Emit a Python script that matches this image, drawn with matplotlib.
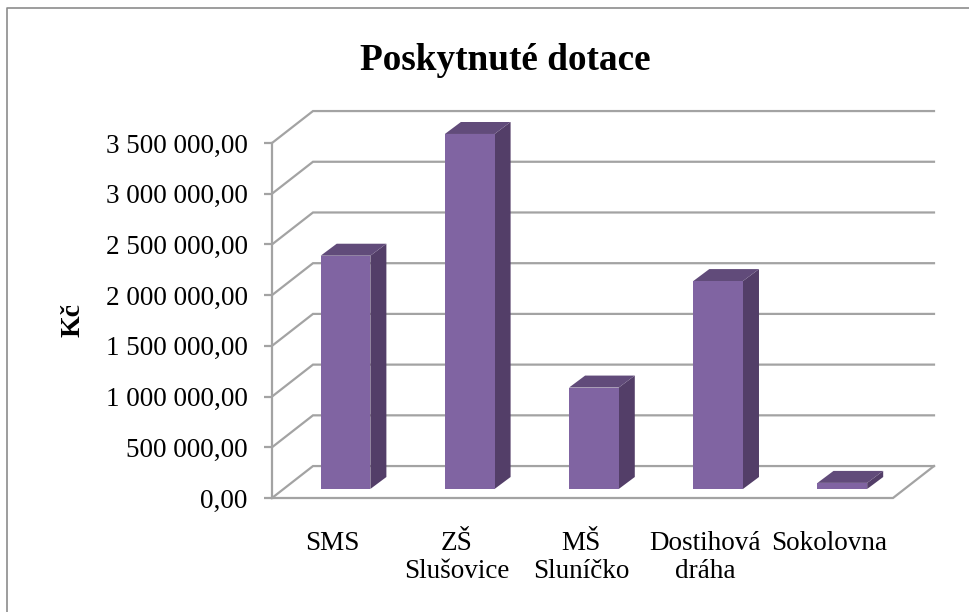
# Poskytnute dotace: fake 3D column chart
import matplotlib
matplotlib.use('Agg')
import matplotlib.pyplot as plt
from matplotlib.patches import Rectangle
from matplotlib.transforms import ScaledTranslation

categories = ['SMS', 'ZŠ\nSlušovice', 'MŠ\nSluníčko', 'Dostihová\ndráha', 'Sokolovna']
values = [2300000, 3500000, 1000000, 2050000, 60000]
yticks = [0, 500000, 1000000, 1500000, 2000000, 2500000, 3000000, 3500000]
yticklabels = ['0,00', '500 000,00', '1 000 000,00', '1 500 000,00', '2 000 000,00',
               '2 500 000,00', '3 000 000,00', '3 500 000,00']

W, H = 969, 612
matplotlib.rc('font', family='Liberation Serif')

# Depth of the floor and of the bars, in data units
wall_dx, wall_dy = 0.33, 315000
bar_dx, bar_dy = 0.129, 118000
bar_shift, bar_lift = 0.092, 89000
bar_w = 0.4
grid_c = '#a3a3a3'

fig = plt.figure(figsize=(W / 100, H / 100), dpi=100)
ax = fig.add_axes([272 / W, 1 - 498 / H, 621 / W, 355 / H])
ax.set_xlim(-0.5, 4.5)
ax.set_ylim(0, 3500000)
ax.patch.set_visible(False)

# Gridlines on the back wall and the side wall
for t in yticks:
    ax.plot([-0.5, -0.5 + wall_dx, 4.5 + wall_dx], [t, t + wall_dy, t + wall_dy],
            color=grid_c, lw=1.6, clip_on=False, zorder=1, solid_joinstyle='miter')

# Floor
ax.plot([-0.5, 4.5, 4.5 + wall_dx], [0, 0, wall_dy], color=grid_c, lw=1.6,
        clip_on=False, zorder=1, solid_joinstyle='miter')

# Bars
for i, v in enumerate(values):
    x0 = i - bar_w / 2 + bar_shift
    x1 = x0 + bar_w
    y0 = bar_lift
    y1 = bar_lift + v
    ax.fill([x1, x1 + bar_dx, x1 + bar_dx, x1], [y0, y0 + bar_dy, y1 + bar_dy, y1],
            color='#533e68', lw=0, clip_on=False, zorder=3)
    ax.fill([x0, x1, x1 + bar_dx, x0 + bar_dx], [y1, y1, y1 + bar_dy, y1 + bar_dy],
            color='#614b7a', lw=0, clip_on=False, zorder=3)
    ax.add_patch(Rectangle((x0, y0), bar_w, v, color='#8064a2', lw=0, clip_on=False, zorder=4))

for s in ['top', 'right', 'bottom']:
    ax.spines[s].set_visible(False)
ax.spines['left'].set_color(grid_c)
ax.spines['left'].set_linewidth(1.6)

ax.set_yticks(yticks)
ax.set_yticklabels(yticklabels, fontsize=19.5)
ax.tick_params(axis='y', length=6, width=1.6, color=grid_c, pad=11.5)
ax.set_xticks(range(len(categories)))
ax.set_xticklabels(categories, fontsize=19.5, linespacing=1.15)
ax.tick_params(axis='x', length=0, pad=24)

# Nudge the category labels a little to the left
nudge = ScaledTranslation(-1.5 / 100, 0, fig.dpi_scale_trans)
for lab in ax.get_xticklabels():
    lab.set_transform(lab.get_transform() + nudge)

fig.text(505.5 / W, 1 - 60 / H, 'Poskytnuté dotace', fontsize=26.8, fontweight='bold',
         ha='center', va='center')
fig.text(73 / W, 1 - 320 / H, 'Kč', fontsize=20, fontweight='bold', rotation=90,
         ha='center', va='center')

# Chart frame
fig.add_artist(plt.Line2D([7 / W, 7 / W, 1], [0, 1 - 8 / H, 1 - 8 / H], color='#8c8c8c', lw=1.2))

plt.savefig('out.png', dpi=100)
plt.close()
